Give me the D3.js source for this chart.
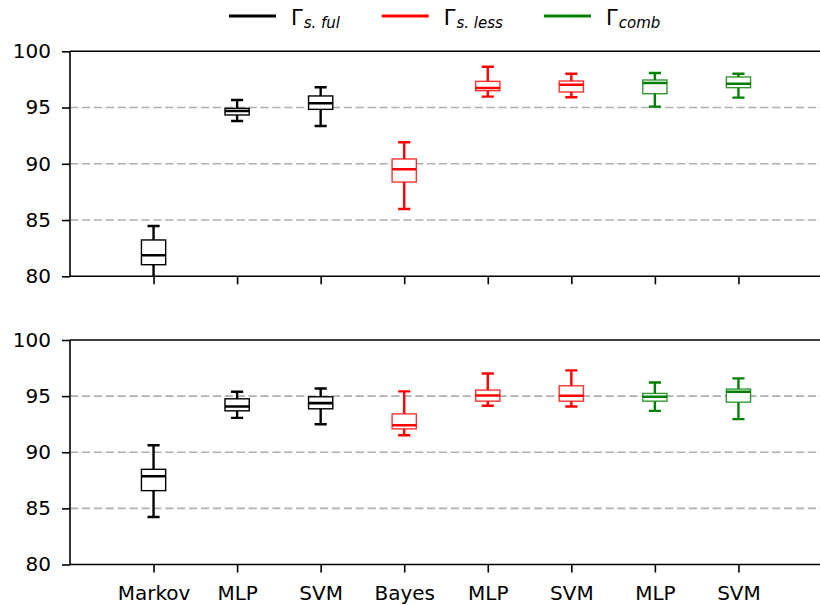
<!DOCTYPE html>
<html>
<head>
<meta charset="utf-8">
<script src="https://cdn.jsdelivr.net/npm/d3@7"></script>
<style>
  html, body { margin: 0; padding: 0; background: #fff; }
  svg { display: block; font-family: "DejaVu Sans", sans-serif; }
</style>
</head>
<body>
<svg id="chart" width="820" height="605"></svg>
<script>
// Classifier names along the x axis
const categories = ["Markov", "MLP", "SVM", "Bayes", "MLP", "SVM", "MLP", "SVM"];
// Feature group each classifier belongs to (drives colour)
const groups = ["ful", "ful", "ful", "less", "less", "less", "comb", "comb"];
const groupColors = { ful: "#000000", less: "#ff0000", comb: "#008000" };
const legendKeys = ["ful", "less", "comb"];
const legendSubs = ["s. ful", "s. less", "comb"];

// Box statistics per classifier: [lower whisker, Q1, median, Q3, upper whisker]
const topStats = [
  [79.0, 81.03, 81.87, 83.23, 84.47],
  [93.80, 94.34, 94.69, 94.93, 95.67],
  [93.36, 94.84, 95.38, 96.03, 96.80],
  [85.98, 88.38, 89.51, 90.43, 91.91],
  [95.97, 96.50, 96.74, 97.33, 98.63],
  [95.91, 96.38, 97.03, 97.36, 98.01],
  [95.08, 96.23, 97.18, 97.45, 98.07],
  [95.88, 96.77, 97.12, 97.72, 98.01]
];
const bottomStats = [
  [84.23, 86.58, 87.86, 88.48, 90.63],
  [93.06, 93.69, 94.08, 94.76, 95.39],
  [92.50, 93.87, 94.38, 94.94, 95.68],
  [91.52, 92.08, 92.41, 93.42, 95.42],
  [94.14, 94.55, 95.06, 95.54, 97.02],
  [94.08, 94.55, 95.03, 95.92, 97.29],
  [93.69, 94.55, 94.94, 95.24, 96.22],
  [92.95, 94.46, 95.39, 95.63, 96.58]
];

const yTicks = [80, 85, 90, 95, 100];
const gridValues = [85, 90, 95];

const svg = d3.select("#chart");
const W = 820;

const x = d3.scaleLinear().domain([0, 9]).range([70, 822]);
const boxW = 0.29;

const panels = [
  { stats: topStats, top: 51.3, bottom: 276.3, showLabels: false, id: "p0" },
  { stats: bottomStats, top: 340, bottom: 564.5, showLabels: true, id: "p1" }
];

const defs = svg.append("defs");

panels.forEach(p => {
  const y = d3.scaleLinear().domain([80, 100]).range([p.bottom, p.top]);
  const g = svg.append("g");

  defs.append("clipPath").attr("id", "clip-" + p.id)
    .append("rect")
    .attr("x", x(0)).attr("y", p.top)
    .attr("width", x(9) - x(0)).attr("height", p.bottom - p.top);

  // dashed horizontal grid
  g.selectAll(".grid").data(gridValues).enter().append("line")
    .attr("x1", x(0)).attr("x2", W)
    .attr("y1", d => y(d)).attr("y2", d => y(d))
    .attr("stroke", "#b0b0b0").attr("stroke-width", 1.6)
    .attr("stroke-dasharray", "8.3,3.6");

  // boxes
  const boxes = g.append("g").attr("clip-path", "url(#clip-" + p.id + ")")
    .selectAll(".box").data(p.stats).enter().append("g");

  boxes.each(function(s, i) {
    const c = groupColors[groups[i]];
    const b = d3.select(this);
    const cx = x(i + 1);
    const hw = (x(boxW) - x(0)) / 2;
    const cw = hw / 2;
    const [lo, q1, med, q3, hi] = s;
    // whiskers
    b.append("line").attr("x1", cx).attr("x2", cx)
      .attr("y1", y(q1)).attr("y2", y(lo))
      .attr("stroke", c).attr("stroke-width", 2.4);
    b.append("line").attr("x1", cx).attr("x2", cx)
      .attr("y1", y(q3)).attr("y2", y(hi))
      .attr("stroke", c).attr("stroke-width", 2.4);
    // caps
    [lo, hi].forEach(v => {
      b.append("line").attr("x1", cx - cw).attr("x2", cx + cw)
        .attr("y1", y(v)).attr("y2", y(v))
        .attr("stroke", c).attr("stroke-width", 2.4);
    });
    // box
    b.append("rect")
      .attr("x", cx - hw).attr("width", 2 * hw)
      .attr("y", y(q3)).attr("height", y(q1) - y(q3))
      .attr("fill", "#fff").attr("stroke", c).attr("stroke-width", 1.4)
      .attr("stroke-opacity", c === "#000000" ? 1 : 0.8);
    // median
    b.append("line").attr("x1", cx - hw).attr("x2", cx + hw)
      .attr("y1", y(med)).attr("y2", y(med))
      .attr("stroke", c).attr("stroke-width", 2.6);
  });

  // top spine
  g.append("line").attr("x1", x(0)).attr("x2", W).attr("y1", p.top).attr("y2", p.top)
    .attr("stroke", "#000").attr("stroke-width", 1.6);

  // y axis
  const yAxis = d3.axisLeft(y).tickValues(yTicks).tickSize(8).tickPadding(11);
  const ya = g.append("g").attr("transform", `translate(${x(0)},0)`).call(yAxis);
  ya.select(".domain").attr("stroke-width", 1.6).attr("d", `M0,${p.top}V${p.bottom}`);
  ya.selectAll(".tick line").attr("stroke-width", 1.6);
  ya.selectAll(".tick text").attr("font-size", 20).attr("font-family", "DejaVu Sans").attr("fill", "#000");

  // x axis
  const xAxis = d3.axisBottom(x).tickValues(d3.range(1, 9)).tickSize(8).tickPadding(13)
    .tickFormat((d, i) => p.showLabels ? categories[i] : "");
  const xa = g.append("g").attr("transform", `translate(0,${p.bottom})`).call(xAxis);
  xa.select(".domain").attr("stroke-width", 1.6).attr("d", `M${x(0)},0H${W}`);
  xa.selectAll(".tick line").attr("stroke-width", 1.6);
  xa.selectAll(".tick text").attr("font-size", 20).attr("font-family", "DejaVu Sans").attr("fill", "#000");
});

// legend
const legendX = [229, 381.7, 544];
const lg = svg.append("g");
legendKeys.forEach((k, i) => {
  lg.append("line")
    .attr("x1", legendX[i]).attr("x2", legendX[i] + 47)
    .attr("y1", 16).attr("y2", 16)
    .attr("stroke", groupColors[k]).attr("stroke-width", 3);
  const t = lg.append("text")
    .attr("x", legendX[i] + 62).attr("y", 25)
    .attr("font-size", 21).attr("fill", "#000");
  t.append("tspan").text("Γ");
  t.append("tspan").attr("font-size", 15).attr("font-style", "italic")
    .attr("dy", 2.5).attr("dx", 1).text(legendSubs[i]);
});
</script>
</body>
</html>
